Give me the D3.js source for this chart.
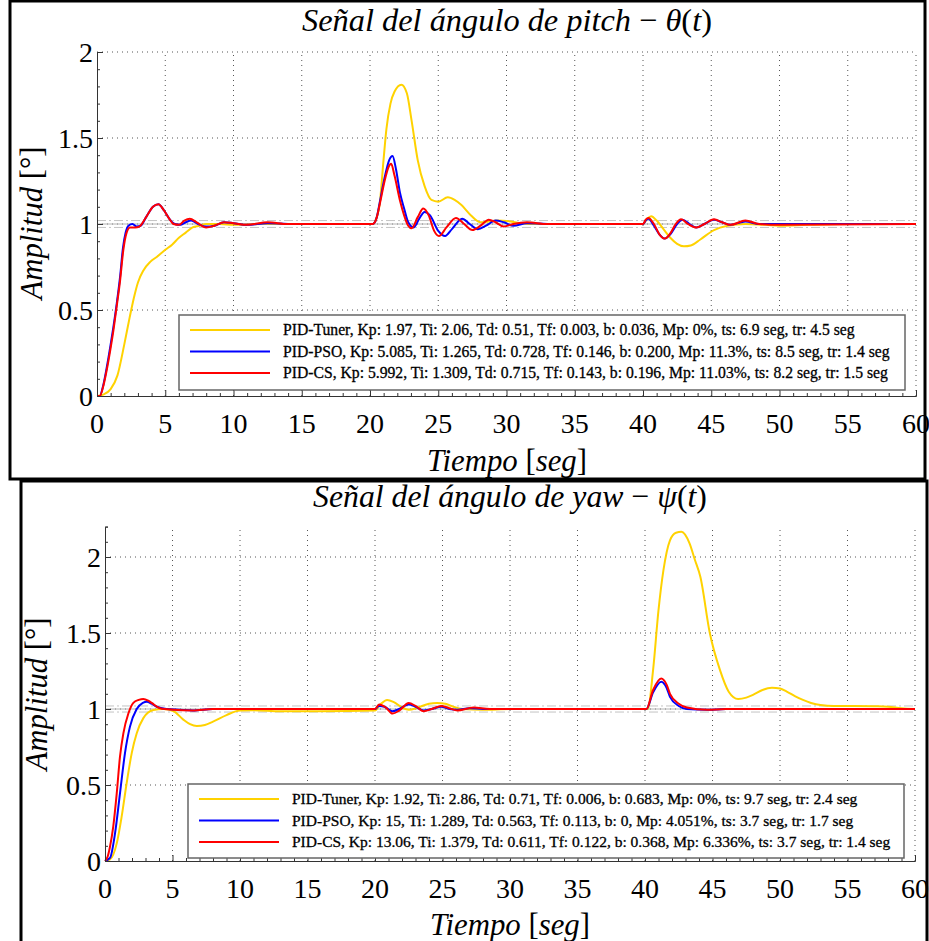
<!DOCTYPE html>
<html>
<head>
<meta charset="utf-8">
<script src="https://cdn.jsdelivr.net/npm/d3@7"></script>
<style>
  body { margin: 0; background: #fff; }
</style>
</head>
<body>
<svg width="929" height="941"></svg>
<script>
// ---- data: [tiempo, amplitud] ----
var pitchTuner = [[0,0],[0.5,0.01],[1,0.04],[1.5,0.12],[2,0.3],[2.4,0.46],[2.7,0.57],[3,0.66],[3.4,0.73],[3.9,0.78],[4.4,0.81],[5,0.85],[5.5,0.88],[6,0.92],[6.5,0.95],[7,0.98],[7.5,0.99],[8,1],[9,1],[10,0.995],[12,1],[15,1],[20,1],[20.2,1],[20.5,1.04],[20.7,1.11],[21,1.38],[21.2,1.55],[21.5,1.7],[21.8,1.77],[22.3,1.81],[22.7,1.76],[23.05,1.6],[23.5,1.37],[24,1.22],[24.5,1.14],[25,1.13],[25.7,1.155],[26.2,1.14],[26.7,1.11],[27.4,1.05],[28.1,1.01],[28.7,1.015],[29.3,1.02],[30.3,1.015],[31.5,1],[35,1],[40,1],[40.3,1.03],[40.6,1.045],[41,1.02],[41.5,0.97],[42,0.92],[42.5,0.885],[43,0.87],[43.5,0.875],[44.2,0.91],[45.2,0.965],[46.2,0.99],[47.5,1],[49,0.995],[50,0.99],[52,0.995],[55,1],[60,1]];
var pitchPSO = [[0,0],[0.2,0],[0.45,0.06],[0.7,0.16],[1,0.3],[1.2,0.4],[1.45,0.54],[1.7,0.7],[1.9,0.86],[2.1,0.95],[2.3,0.99],[2.6,1],[2.9,0.985],[3.2,0.99],[3.6,1.04],[4.1,1.1],[4.5,1.115],[4.9,1.08],[5.3,1.03],[5.7,1],[6.1,0.995],[6.5,1.01],[6.9,1.02],[7.4,1],[8,0.985],[8.6,0.99],[9.3,1.01],[10,1.005],[11,0.995],[12.5,1.005],[14,1],[20,1],[20.2,1],[20.5,1.04],[20.7,1.12],[21.1,1.28],[21.4,1.37],[21.65,1.395],[21.9,1.32],[22.2,1.18],[22.5,1.09],[22.8,1.01],[23.2,0.98],[23.6,1.03],[24,1.07],[24.4,1.05],[25,0.96],[25.5,0.93],[26,0.97],[26.75,1.03],[27.3,1],[27.9,0.97],[28.5,0.99],[29.2,1.02],[29.8,1.01],[30.5,0.99],[31.5,1.005],[33,1],[40,1],[40.2,1.02],[40.4,1.03],[40.8,0.99],[41.2,0.94],[41.6,0.915],[42,0.94],[42.5,1],[42.9,1.025],[43.4,1],[43.9,0.98],[44.5,1],[45.2,1.025],[45.8,1.01],[46.4,0.995],[47.5,1.015],[48.5,1],[50,1],[60,1]];
var pitchCS = [[0,0],[0.2,0],[0.47,0.06],[0.71,0.15],[1,0.28],[1.2,0.38],[1.44,0.52],[1.69,0.67],[1.93,0.85],[2.17,0.95],[2.42,0.98],[2.8,0.98],[3.1,0.985],[3.6,1.04],[4.1,1.1],[4.5,1.115],[4.9,1.08],[5.3,1.03],[5.6,1],[6,0.995],[6.4,1.02],[6.8,1.03],[7.3,1.01],[8,0.98],[8.6,0.99],[9.3,1.01],[10,1.005],[11,0.995],[12.5,1.01],[14,1],[20,1],[20.2,1],[20.5,1.04],[20.7,1.11],[21.1,1.26],[21.35,1.33],[21.55,1.35],[21.8,1.28],[22.2,1.135],[22.5,1.05],[22.8,0.99],[23.05,0.975],[23.5,1.04],[23.9,1.09],[24.3,1.05],[24.7,0.96],[25.05,0.93],[25.6,0.98],[26.3,1.035],[26.9,1],[27.5,0.965],[28.1,0.99],[28.7,1.025],[29.2,1.01],[29.8,0.985],[30.5,1],[31.5,1.01],[33,1],[40,1],[40.2,1.025],[40.4,1.035],[40.8,1],[41.2,0.94],[41.6,0.915],[42,0.945],[42.4,1],[42.8,1.027],[43.3,1],[43.9,0.98],[44.5,1],[45.2,1.027],[45.8,1.01],[46.4,0.995],[47.5,1.02],[48.5,1],[50,0.995],[60,1]];

var yawTuner = [[0,0],[0.37,0.01],[0.87,0.116],[1.23,0.29],[1.6,0.51],[1.98,0.71],[2.35,0.84],[2.84,0.94],[3.58,0.993],[4.32,1],[5.06,0.987],[5.8,0.93],[6.3,0.9],[6.8,0.888],[7.4,0.895],[8,0.917],[9,0.96],[10,0.99],[11,0.992],[13,0.985],[16,0.985],[20,0.99],[20.4,1.03],[20.9,1.06],[21.4,1.045],[22,1.01],[22.5,0.995],[23.2,1.01],[24,1.035],[24.6,1.04],[25.2,1.035],[25.8,1.015],[26.5,1],[28,0.995],[30,1],[35,1],[40,1],[40.2,1],[40.6,1.257],[41,1.65],[41.36,1.91],[41.85,2.11],[42.3,2.16],[42.7,2.166],[43.3,2.09],[43.7,1.98],[44.1,1.87],[44.8,1.5],[45.55,1.257],[46.2,1.114],[46.9,1.066],[47.5,1.075],[48,1.093],[48.7,1.125],[49.4,1.14],[50,1.135],[50.5,1.115],[51.1,1.085],[51.7,1.06],[52.3,1.04],[53,1.026],[54,1.02],[55.4,1.02],[57,1.018],[58,1.015],[59,1.005],[60,1]];
var yawPSO = [[0,0],[0.37,0.02],[0.74,0.18],[1.11,0.445],[1.48,0.71],[1.85,0.884],[2.35,1],[2.8,1.04],[3.1,1.048],[3.45,1.035],[3.83,1.015],[4.57,1],[5.5,0.995],[6.5,0.99],[8,1],[20,1],[20.3,1.02],[20.7,1.015],[21.3,0.985],[21.8,1],[22.5,1.03],[23,1.015],[23.6,0.99],[24.2,1],[24.9,1.015],[25.5,1],[26.1,0.995],[27,1.005],[28,1],[40,1],[40.1,1],[40.6,1.11],[41.2,1.18],[41.6,1.14],[41.85,1.08],[42.5,1.02],[43.1,1],[44.6,0.995],[46,1],[60,1]];
var yawCS = [[0,0],[0.2,0.03],[0.37,0.094],[0.61,0.226],[0.87,0.445],[1.11,0.686],[1.36,0.84],[1.73,0.97],[2.1,1.04],[2.5,1.06],[2.84,1.066],[3.2,1.055],[3.46,1.04],[4.07,1.005],[5.06,0.995],[6.5,0.99],[8,1],[20,1],[20.3,1.03],[20.8,1.01],[21.3,0.97],[21.8,0.99],[22.5,1.04],[23,1.02],[23.6,0.985],[24.2,1],[24.9,1.02],[25.5,1.005],[26.1,0.99],[27.3,1.01],[28.5,1],[40,1],[40.1,1],[40.6,1.125],[41.2,1.2],[41.6,1.16],[41.85,1.1],[42.5,1.035],[43.1,1.01],[44.6,0.995],[46,1],[60,1]];

var xTicks = [0, 5, 10, 15, 20, 25, 30, 35, 40, 45, 50, 55, 60];
var yTicks = [0, 0.5, 1, 1.5, 2];
var band = [0.98, 1.02];

var pitchLegend = [
  "PID-Tuner, Kp: 1.97, Ti: 2.06, Td: 0.51, Tf: 0.003, b: 0.036, Mp: 0%, ts: 6.9 seg, tr: 4.5 seg",
  "PID-PSO, Kp: 5.085, Ti: 1.265, Td: 0.728, Tf: 0.146, b: 0.200, Mp: 11.3%, ts: 8.5 seg, tr: 1.4 seg",
  "PID-CS, Kp: 5.992, Ti: 1.309, Td: 0.715, Tf: 0.143, b: 0.196, Mp: 11.03%, ts: 8.2 seg, tr: 1.5 seg"
];
var yawLegend = [
  "PID-Tuner, Kp: 1.92, Ti: 2.86, Td: 0.71, Tf: 0.006, b: 0.683, Mp: 0%, ts: 9.7 seg, tr: 2.4 seg",
  "PID-PSO, Kp: 15, Ti: 1.289, Td: 0.563, Tf: 0.113, b: 0, Mp: 4.051%, ts: 3.7 seg, tr: 1.7 seg",
  "PID-CS, Kp: 13.06, Ti: 1.379, Td: 0.611, Tf: 0.122, b: 0.368, Mp: 6.336%, ts: 3.7 seg, tr: 1.4 seg"
];
var colors = ["#ffd200", "#0000ff", "#ff0000"];

var serif = "'Liberation Serif', 'Times New Roman', 'DejaVu Serif', serif";
var svg = d3.select("svg").attr("font-family", serif);

// escala el texto para que ocupe el ancho medido en el original
function fitWidth(sel, w) {
  var len = sel.node().getComputedTextLength();
  var fs = +sel.attr("font-size");
  sel.attr("font-size", fs * w / len);
}

function drawPanel(p) {
  var g = svg.append("g").attr("font-family", serif);

  // marco
  g.append("rect")
    .attr("x", p.box[0]).attr("y", p.box[1])
    .attr("width", p.box[2]).attr("height", p.box[3])
    .attr("fill", "#fff").attr("stroke", "#000").attr("stroke-width", 3);

  var x = d3.scaleLinear().domain([0, 60]).range(p.xr);
  var y = d3.scaleLinear().domain([0, p.ymax]).range(p.yr);

  // grid
  g.append("g").selectAll("line").data(xTicks.slice(1)).enter().append("line")
    .attr("x1", function (d) { return x(d); }).attr("x2", function (d) { return x(d); })
    .attr("y1", y(0)).attr("y2", y(p.ymax))
    .attr("stroke", "#555").attr("stroke-width", 1).attr("stroke-dasharray", "1,4");
  g.append("g").selectAll("line").data(yTicks.slice(1)).enter().append("line")
    .attr("x1", x(0)).attr("x2", x(60))
    .attr("y1", function (d) { return y(d); }).attr("y2", function (d) { return y(d); })
    .attr("stroke", "#555").attr("stroke-width", 1).attr("stroke-dasharray", "1,4");

  // referencia y banda de 2%
  g.append("line")
    .attr("x1", x(0)).attr("x2", x(60)).attr("y1", y(1)).attr("y2", y(1))
    .attr("stroke", "#b4b4b4").attr("stroke-width", 1);
  g.append("g").selectAll("line").data(band).enter().append("line")
    .attr("x1", x(0)).attr("x2", x(60))
    .attr("y1", function (d) { return y(d); }).attr("y2", function (d) { return y(d); })
    .attr("stroke", "#c4c4c4").attr("stroke-width", 1).attr("stroke-dasharray", "9,3,2,3");

  var line = d3.line()
    .x(function (d) { return x(d[0]); })
    .y(function (d) { return y(d[1]); })
    .curve(d3.curveMonotoneX);

  p.series.forEach(function (s, i) {
    g.append("path").datum(s)
      .attr("d", line)
      .attr("fill", "none")
      .attr("stroke", colors[i])
      .attr("stroke-width", 2);
  });

  // ejes
  var xAxis = d3.axisBottom(x).tickValues(d3.range(0, 61, 1)).tickSize(-3).tickFormat("");
  var gx = g.append("g").attr("transform", "translate(0," + y(0) + ")").call(xAxis);
  gx.selectAll(".tick line").filter(function (d) { return d % 5 === 0; }).attr("y2", -6);
  var yAxis = d3.axisLeft(y).tickValues(d3.range(0, p.ymax + 0.001, 0.1)).tickSize(-3).tickFormat("");
  var gy = g.append("g").attr("transform", "translate(" + x(0) + ",0)").call(yAxis);
  gy.selectAll(".tick line").filter(function (d) { return Math.abs(d * 2 - Math.round(d * 2)) < 1e-6; }).attr("x2", 6);
  g.selectAll(".domain").attr("stroke", "#333");
  g.selectAll(".tick line").attr("stroke", "#333");

  g.append("g").selectAll("text").data(xTicks).enter().append("text")
    .attr("x", function (d) { return x(d); })
    .attr("y", y(0) + 37)
    .attr("text-anchor", "middle")
    .attr("font-family", serif)
    .attr("font-size", 28)
    .text(function (d) { return d; });
  g.append("g").selectAll("text").data(yTicks).enter().append("text")
    .attr("x", x(0) - 4)
    .attr("y", function (d) { return y(d); })
    .attr("dy", "0.35em")
    .attr("text-anchor", "end")
    .attr("font-family", serif)
    .attr("font-size", 28)
    .text(function (d) { return d; });

  // leyenda
  var L = p.legend;
  g.append("rect")
    .attr("x", L.x).attr("y", L.y).attr("width", L.w).attr("height", L.h)
    .attr("fill", "#fff").attr("stroke", "#666").attr("stroke-width", 1.5);
  var texts = p.labels.map(function (txt, i) {
    var ly = L.y + 15 + i * 21.5;
    g.append("line")
      .attr("x1", L.x + 11).attr("x2", L.x + 91)
      .attr("y1", ly).attr("y2", ly)
      .attr("stroke", colors[i]).attr("stroke-width", 2);
    return g.append("text")
      .attr("x", L.x + 104).attr("y", ly + 5)
      .attr("font-family", serif)
      .attr("font-size", 15)
      .attr("stroke", "#000").attr("stroke-width", 0.3)
      .text(txt);
  });
  // ajustar tamaño para que la fila más larga llegue al ancho del original
  var longest = d3.max(texts, function (t) { return t.node().getComputedTextLength(); });
  var fs = 15 * L.textW / longest;
  texts.forEach(function (t) { t.attr("font-size", fs); });

  // titulos
  var t = g.append("text")
    .attr("x", p.titleX).attr("y", p.titleY)
    .attr("text-anchor", "middle")
    .attr("font-size", 31);
  t.append("tspan").attr("font-style", "italic").text(p.title);
  t.append("tspan").text(" − ");
  t.append("tspan").attr("font-style", "italic").text(p.sym);
  t.append("tspan").text("(");
  t.append("tspan").attr("font-style", "italic").text("t");
  t.append("tspan").text(")");
  fitWidth(t, p.titleW);

  var xl = g.append("text")
    .attr("x", p.titleX).attr("y", p.xlabY)
    .attr("text-anchor", "middle")
    .attr("font-size", 31);
  xl.append("tspan").attr("font-style", "italic").text("Tiempo ");
  xl.append("tspan").text("[");
  xl.append("tspan").attr("font-style", "italic").text("seg");
  xl.append("tspan").text("]");
  fitWidth(xl, 160);

  var yl = g.append("text")
    .attr("transform", "translate(" + p.ylab[0] + "," + p.ylab[1] + ") rotate(-90)")
    .attr("text-anchor", "middle")
    .attr("dy", "0.35em")
    .attr("font-size", 31);
  yl.append("tspan").attr("font-style", "italic").text("Amplitud ");
  yl.append("tspan").text("[°]");
  fitWidth(yl, 153);
}

drawPanel({
  box: [10, 1, 915, 478],
  xr: [97, 916], yr: [396, 52], ymax: 2,
  series: [pitchTuner, pitchPSO, pitchCS],
  labels: pitchLegend,
  legend: { x: 179, y: 315, w: 726, h: 75, textW: 607 },
  title: "Señal del ángulo de pitch", sym: "θ", titleW: 410,
  titleX: 507, titleY: 31, xlabY: 471,
  ylab: [31, 223]
});

drawPanel({
  box: [21, 481, 906, 470],
  xr: [105, 915], yr: [861, 861 - 2.2 * 152], ymax: 2.2,
  series: [yawTuner, yawPSO, yawCS],
  labels: yawLegend,
  legend: { x: 188, y: 784, w: 716, h: 74, textW: 599 },
  title: "Señal del ángulo de yaw", sym: "ψ", titleW: 394,
  titleX: 510, titleY: 507, xlabY: 935,
  ylab: [36, 694]
});
</script>
</body>
</html>
